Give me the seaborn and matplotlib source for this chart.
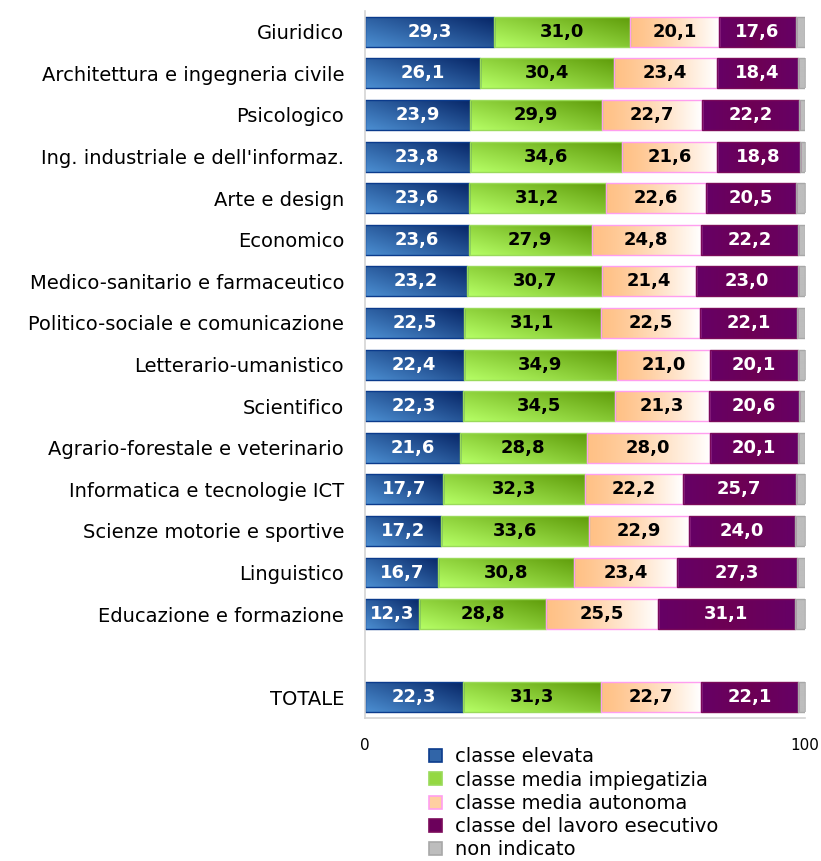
import numpy as np
import pandas as pd
import matplotlib
matplotlib.use("Agg")
import matplotlib.pyplot as plt
import matplotlib.colors as mcolors
from matplotlib.patches import Patch
import seaborn as sns

# dati (percentuali)
categorie = [
    "Giuridico", "Architettura e ingegneria civile", "Psicologico",
    "Ing. industriale e dell'informaz.", "Arte e design", "Economico",
    "Medico-sanitario e farmaceutico", "Politico-sociale e comunicazione",
    "Letterario-umanistico", "Scientifico", "Agrario-forestale e veterinario",
    "Informatica e tecnologie ICT", "Scienze motorie e sportive",
    "Linguistico", "Educazione e formazione", "TOTALE",
]
elevata     = [29.3, 26.1, 23.9, 23.8, 23.6, 23.6, 23.2, 22.5, 22.4, 22.3, 21.6, 17.7, 17.2, 16.7, 12.3, 22.3]
impiegatizia = [31.0, 30.4, 29.9, 34.6, 31.2, 27.9, 30.7, 31.1, 34.9, 34.5, 28.8, 32.3, 33.6, 30.8, 28.8, 31.3]
autonoma    = [20.1, 23.4, 22.7, 21.6, 22.6, 24.8, 21.4, 22.5, 21.0, 21.3, 28.0, 22.2, 22.9, 23.4, 25.5, 22.7]
esecutivo   = [17.6, 18.4, 22.2, 18.8, 20.5, 22.2, 23.0, 22.1, 20.1, 20.6, 20.1, 25.7, 24.0, 27.3, 31.1, 22.1]
non_indicato = [2.0, 1.7, 1.3, 1.2, 2.1, 1.5, 1.7, 1.8, 1.6, 1.3, 1.5, 2.1, 2.3, 1.8, 2.3, 1.6]

ordine = categorie[:-1] + [""] + categorie[-1:]

serie = [
    ("classe elevata", elevata),
    ("classe media impiegatizia", impiegatizia),
    ("classe media autonoma", autonoma),
    ("classe del lavoro esecutivo", esecutivo),
    ("non indicato", non_indicato),
]

# stile: (colore chiaro, colore scuro, bordo, tipo gradiente, colore testo)
stili = [
    ("#4c8fd2", "#072667", "#0b3b8c", "diag", "white"),
    ("#b6ff66", "#5f9c0a", "#9ada5a", "diag", "black"),
    ("#ffc186", "#ffffff", "#ff9ef0", "oriz", "black"),
    ("#660066", "#720048", "#7a0a5a", "centro", "white"),
    ("#bdbdbd", "#bdbdbd", "#a8a8a8", "piatto", None),
]


def gradiente(c1, c2, tipo, n=64):
    a = np.array(mcolors.to_rgb(c1))
    b = np.array(mcolors.to_rgb(c2))
    col = np.linspace(0, 1, n)[None, :]
    row = np.linspace(0, 1, n)[:, None]
    if tipo == "diag":
        t = 0.55 * col + 0.45 * (1 - row)
    elif tipo == "oriz":
        t = np.repeat(col ** 1.3, n, axis=0)
    elif tipo == "centro":
        t = np.repeat(1 - np.abs(col - 0.5) * 2, n, axis=0) * 0.6
    else:
        t = np.zeros((n, n))
    return a[None, None, :] * (1 - t[..., None]) + b[None, None, :] * t[..., None]


plt.rcParams["font.family"] = ["DejaVu Sans"]
fig = plt.figure(figsize=(8.21, 8.61), dpi=100)
ax = fig.add_axes([0.4446, 0.166, 0.5359, 0.8212])

sinistra = np.zeros(len(categorie))
for (nome, valori), (c1, c2, bordo, tipo, testo) in zip(serie, stili):
    df = pd.DataFrame({"cat": categorie, "val": valori})
    sns.barplot(data=df, x="val", y="cat", order=ordine, left=sinistra.copy(),
                color=c1, edgecolor=bordo, linewidth=1.0, width=0.72,
                errorbar=None, ax=ax)
    cont = ax.containers[-1]
    img = gradiente(c1, c2, tipo)
    for p in cont.patches:
        x0, y0 = p.get_x(), p.get_y()
        w, h = p.get_width(), p.get_height()
        im = ax.imshow(img, extent=(x0, x0 + w, y0, y0 + h), origin="lower",
                       aspect="auto", zorder=0.8, interpolation="bilinear")
        im.set_clip_path(p)
        p.set_facecolor("none")
        p.set_zorder(1)
    if testo:
        etichette = [f"{v:.1f}".replace(".", ",") for v in valori]
        ax.bar_label(cont, labels=etichette, label_type="center", color=testo,
                     fontsize=13, fontweight="bold")
    sinistra = sinistra + np.array(valori)

ax.set_xlim(0, 100)
ax.set_ylim(16.5, -0.5)
ax.set_xlabel("")
ax.set_ylabel("")
ax.set_xticks([0, 100])
ax.set_xticklabels(["0", "100"])
ax.tick_params(axis="x", length=0, pad=14, labelsize=11)
ax.tick_params(axis="y", length=0, pad=15, labelsize=14)
for s in ["top", "right"]:
    ax.spines[s].set_visible(False)
for s in ["left", "bottom"]:
    ax.spines[s].set_color("#d4d4d4")
    ax.spines[s].set_linewidth(1.2)
ax.set_facecolor("white")

maniglie = [Patch(facecolor=mcolors.to_hex(gradiente(c1, c2, t)[32, 20]), edgecolor=b, linewidth=1.2)
            for (c1, c2, b, t, _) in stili]
fig.legend(maniglie, [s[0] for s in serie], loc="upper left",
           bbox_to_anchor=(0.513, 0.141), frameon=False,
           fontsize=14, handlelength=0.65, handleheight=0.65, handletextpad=0.7,
           labelspacing=0.22, borderaxespad=0)

fig.savefig("out.png", dpi=100)
